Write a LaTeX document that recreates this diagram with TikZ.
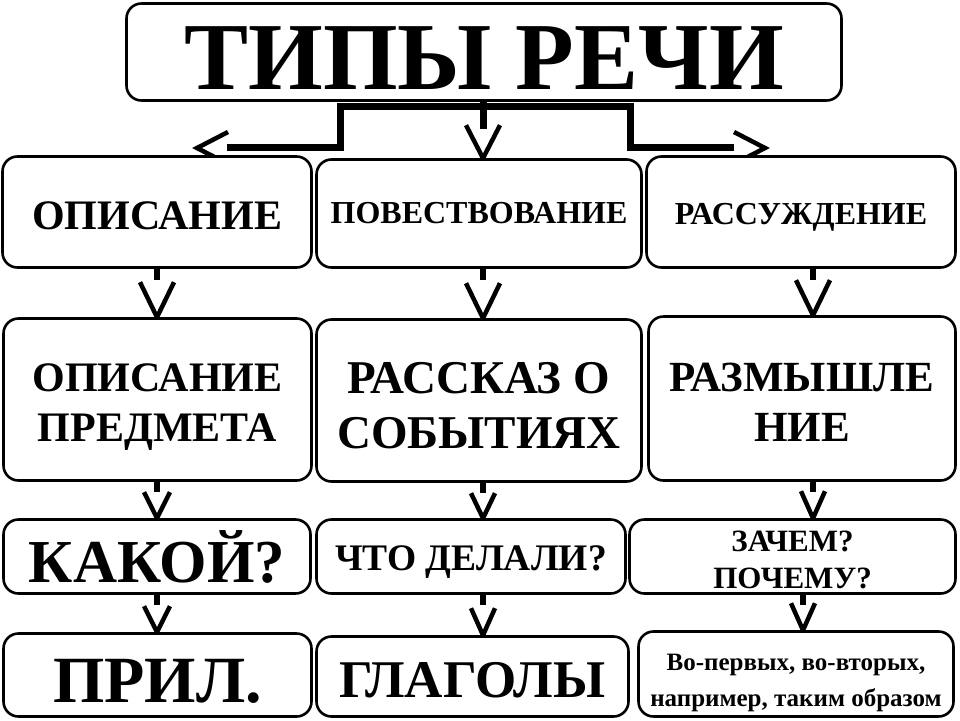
\documentclass[tikz,border=0pt]{standalone}
\usepackage{fontspec}
\setmainfont{Liberation Serif}
\usetikzlibrary{calc}
\pgfdeclarelayer{bg}
\pgfsetlayers{bg,main}
\newcommand\fs[2]{\fontsize{#1}{#2}\selectfont}
\newcommand\tx[2]{\raisebox{-#1pt}[\height][\depth]{\begin{tabular}{@{}c@{}}#2\end{tabular}}}
\newcommand\mydownarrow[7]{%
  \draw[stemline] (#1 |- #2.south) -- ++(0,#6);
  \draw[chev] ($(#1 |- #3.north)+(-#4,-#5)$) -- ($(#1 |- #3.north)+(0,#7)$) -- ++(#4,-#5);
}
\begin{document}
\begin{tikzpicture}[x=1pt,y=-1pt,
  box/.style={draw, line width=2.6pt, rounded corners=15pt, fill=white,
              inner sep=0pt},
  thicklink/.style={line width=7pt},
  stemline/.style={line width=6pt},
  chev/.style={line width=4.5pt, line join=miter},
]
\useasboundingbox (0,0) rectangle (960,720);

% title
\node[box, minimum width=715, minimum height=97, font=\bfseries\fs{96}{96}] (t) at (484,52) {\tx{18}{ТИПЫ РЕЧИ}};

% row 1
\node[box, minimum width=309, minimum height=111, font=\bfseries\fs{42}{42}] (a1) at (157,212) {\tx{9.5}{ОПИСАНИЕ}};
\node[box, minimum width=325, minimum height=108, font=\bfseries\fs{32}{32}] (a2) at (479,213.5) {\tx{4}{ПОВЕСТВОВАНИЕ}};
\node[box, minimum width=309, minimum height=111, font=\bfseries\fs{32}{32}] (a3) at (801,212) {\tx{6.5}{РАССУЖДЕНИЕ}};

% row 2
\node[box, minimum width=308, minimum height=162, font=\bfseries\fs{42}{50}] (b1) at (157.5,399.5) {\tx{7.4}{ОПИСАНИЕ\\ПРЕДМЕТА}};
\node[box, minimum width=325, minimum height=162, font=\bfseries\fs{47}{55}] (b2) at (479,400.5) {\tx{9.5}{РАССКАЗ О\\СОБЫТИЯХ}};
\node[box, minimum width=307, minimum height=164, font=\bfseries\fs{43}{50}] (b3) at (802,398.5) {\tx{7.7}{РАЗМЫШЛЕ\\НИЕ}};

% row 3
\node[box, minimum width=307, minimum height=74, font=\bfseries\fs{61}{61}] (c1) at (157,556.5) {\tx{9.5}{КАКОЙ?}};
\node[box, minimum width=309, minimum height=74, font=\bfseries\fs{37.5}{37.5}] (c2) at (471,556.5) {\tx{6}{ЧТО ДЕЛАЛИ?}};
\node[box, minimum width=326, minimum height=74, font=\bfseries\fs{31}{37}] (c3) at (792.5,556.5) {\tx{6}{ЗАЧЕМ?\\ПОЧЕМУ?}};

% row 4
\node[box, minimum width=308, minimum height=83, font=\bfseries\fs{66}{66}] (d1) at (157.5,675) {\tx{14.5}{ПРИЛ.}};
\node[box, minimum width=312, minimum height=80, font=\bfseries\fs{53}{53}] (d2) at (472.5,676.5) {\tx{10}{ГЛАГОЛЫ}};
\node[box, minimum width=315, minimum height=85, font=\bfseries\fs{25}{36}] (d3) at (796,674) {\tx{6.8}{Во-первых, во-вторых,\\например, таким образом}};

% columns of the connectors
\coordinate (k1) at (157,0);
\coordinate (k2) at (483,0);
\coordinate (k3) at (813,0);
\coordinate (k4) at (803,0);
\coordinate (tl) at (197,148);
\coordinate (tr) at (765,148);

\begin{pgfonlayer}{bg}
  % title connectors
  \draw[thicklink] ($(tl)+(30,-1)$) -- (340,147) -- (340,106) -- (630,106) -- (630,147) -- ($(tr)+(-31,-1)$);
  \draw[chev] ($(tl)+(31,-16)$) -- (tl) -- ++(31,16);
  \draw[chev] ($(tr)+(-31,-16)$) -- (tr) -- ++(-31,16);
  \draw[thicklink] (k2 |- t.south) -- ++(0,27);
  \draw[chev] ($(k2 |- a2.north)+(-17,-33)$) -- (k2 |- a2.north) -- ++(17,-33);
  % row 1 -> row 2
  \mydownarrow{k1}{a1}{b1}{17}{35}{11}{0}
  \mydownarrow{k2}{a2}{b2}{17}{35}{11}{0}
  \mydownarrow{k3}{a3}{b3}{17}{35}{11}{0}
  % row 2 -> row 3
  \mydownarrow{k1}{b1}{c1}{13}{26}{10}{0}
  \mydownarrow{k2}{b2}{c2}{12}{25}{10}{0}
  \mydownarrow{k3}{b3}{c3}{12}{27}{10}{0}
  % row 3 -> row 4
  \mydownarrow{k1}{c1}{d1}{13}{26}{10}{0}
  \mydownarrow{k2}{c2}{d2}{12}{27}{10}{0}
  \mydownarrow{k4}{c3}{d3}{12}{27}{10}{0}
\end{pgfonlayer}
\end{tikzpicture}
\end{document}
